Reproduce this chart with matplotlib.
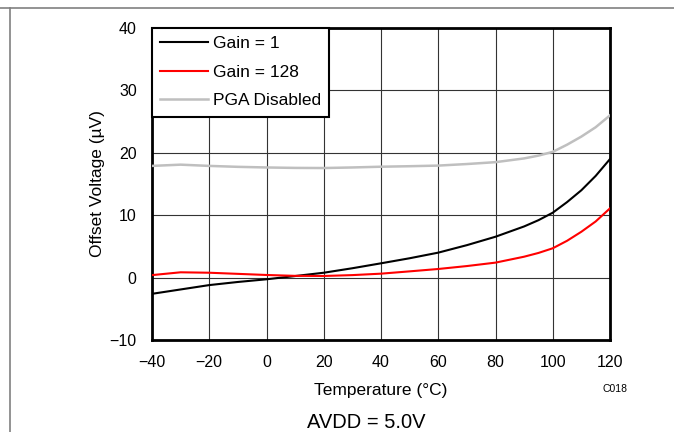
import matplotlib
matplotlib.use("Agg")
import matplotlib.pyplot as plt
from matplotlib.lines import Line2D

plt.rcParams['font.family'] = ['Liberation Sans', 'DejaVu Sans']

# temperature points (degC)
temp = [-40, -30, -20, -10, 0, 10, 20, 30, 40, 50, 60, 70, 80, 90, 95, 100, 105, 110, 115, 120]

# offset voltage in uV
gain1 = [-2.6, -1.9, -1.2, -0.7, -0.27, 0.25, 0.78, 1.5, 2.29, 3.1, 4.0, 5.2, 6.55, 8.2, 9.2, 10.4, 12.1, 14.0, 16.3, 19.0]
gain128 = [0.4, 0.85, 0.78, 0.6, 0.42, 0.28, 0.26, 0.4, 0.63, 1.0, 1.38, 1.85, 2.4, 3.35, 3.95, 4.7, 5.9, 7.35, 9.0, 11.1]
pga_off = [17.9, 18.1, 17.9, 17.75, 17.65, 17.58, 17.56, 17.65, 17.77, 17.85, 17.95, 18.2, 18.5, 19.1, 19.55, 20.15, 21.3, 22.6, 24.1, 26.0]

fig = plt.figure(figsize=(6.74, 4.32), dpi=100)
ax = fig.add_axes([152 / 674, 92 / 432, 458 / 674, 312 / 432])

ax.plot(temp, gain1, color='black', lw=1.5, label='Gain = 1', zorder=3)
ax.plot(temp, gain128, color='#ff0000', lw=1.5, label='Gain = 128', zorder=3)
ax.plot(temp, pga_off, color='#bfbfbf', lw=1.8, label='PGA Disabled', zorder=3)

ax.set_xlim(-40, 120)
ax.set_ylim(-10, 40)
ax.set_xticks(range(-40, 121, 20))
ax.set_yticks(range(-10, 41, 10))
ax.grid(True, color='#333333', lw=0.8)
ax.tick_params(length=0, labelsize=11.5, pad=11)
for s in ax.spines.values():
    s.set_linewidth(2.0)

ax.set_xlabel('Temperature (°C)', fontsize=12.5, labelpad=9)
ax.set_ylabel('Offset Voltage (µV)', fontsize=12.5, labelpad=3)

leg = ax.legend(loc='upper left', bbox_to_anchor=(0, 1), borderaxespad=0,
                fancybox=False, framealpha=1, edgecolor='black', fontsize=12.5,
                handlelength=2.75, labelspacing=0.77, handletextpad=0.3,
                borderpad=0.47)
leg.get_frame().set_linewidth(1.5)
leg.set_zorder(5)

fig.text(615 / 674, 1 - 389 / 432, 'C018', fontsize=7.5, ha='center', va='center')
fig.text(366 / 674, 1 - 423 / 432, 'AVDD = 5.0V', fontsize=14.5, ha='center', va='center')

# page frame lines
fig.add_artist(Line2D([0, 1], [1 - 8 / 432, 1 - 8 / 432], color='#808080', lw=1.2))
fig.add_artist(Line2D([10 / 674, 10 / 674], [0, 1 - 8 / 432], color='#808080', lw=1.2))

fig.savefig('out.png', dpi=100)
